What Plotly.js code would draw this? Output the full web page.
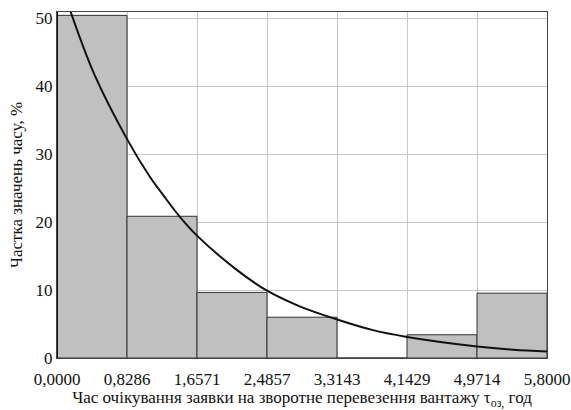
<!DOCTYPE html>
<html>
<head>
<meta charset="utf-8">
<script src="https://cdn.plot.ly/plotly-3.0.1.min.js"></script>
<style>html,body{margin:0;padding:0;background:#fff;}#chart{width:571px;height:410px;}</style>
</head>
<body>
<div id="chart"></div>
<script>
// Histogram bin edges (hours) and tick labels
const binEdges = [0, 0.8286, 1.6571, 2.4857, 3.3143, 4.1429, 4.9714, 5.8];
const tickLabels = ["0,0000", "0,8286", "1,6571", "2,4857", "3,3143", "4,1429", "4,9714", "5,8000"];
// Share of values per bin, %
const shares = [50.4, 20.85, 9.65, 6.0, 0, 3.42, 9.54];
// Fitted density curve
const curveX = [0.162, 0.446, 0.829, 1.097, 1.255, 1.452, 1.657, 2.124, 2.486, 2.873, 3.307, 3.74, 4.143, 4.972, 5.397, 5.8];
const curveY = [50.9, 41.6, 32.2, 26.7, 24.0, 20.8, 18.0, 13.0, 9.9, 7.6, 5.7, 4.1, 3.1, 1.7, 1.22, 0.95];
const yTicks = [0, 10, 20, 30, 40, 50];

const mids = shares.map((_, i) => (binEdges[i] + binEdges[i + 1]) / 2);
const widths = shares.map((_, i) => binEdges[i + 1] - binEdges[i]);

const mkFont = () => ({family: "Liberation Serif", size: 17, color: "#111"});

const data = [
  {
    type: "bar", x: mids, y: shares, width: widths,
    marker: {color: "#c0c0c0", line: {color: "#333", width: 1}},
    hoverinfo: "y"
  },
  {
    type: "scatter", mode: "lines", x: curveX, y: curveY,
    line: {color: "#111", width: 2, shape: "spline", smoothing: 1},
    cliponaxis: true
  }
];

const layout = {
  width: 571, height: 410,
  margin: {l: 57, r: 24, t: 12, b: 52},
  paper_bgcolor: "#fff", plot_bgcolor: "#fff",
  showlegend: false,
  font: mkFont(),
  bargap: 0,
  xaxis: {
    range: [0, 5.8], tickvals: binEdges, ticktext: tickLabels,
    showgrid: true, gridcolor: "#c8c8c8", gridwidth: 1,
    showline: true, linecolor: "#444", linewidth: 1, mirror: true,
    ticks: "outside", ticklen: 6, tickcolor: "rgba(0,0,0,0)",
    ticklabeloverflow: "allow",
    zeroline: false, tickfont: mkFont(),
    title: {text: "Час очікування заявки на зворотне перевезення вантажу τ<sub>оз,</sub> год", font: mkFont(), standoff: 6},
    automargin: false
  },
  yaxis: {
    range: [0, 50.9], tickvals: yTicks,
    showgrid: true, gridcolor: "#c8c8c8", gridwidth: 1,
    showline: true, linecolor: "#444", linewidth: 1, mirror: true,
    ticks: "", zeroline: false, tickfont: mkFont(),
    title: {text: "Частка значень часу, %", font: mkFont(), standoff: 8},
    automargin: false
  },
  shapes: [
    {type: "line", xref: "x", yref: "paper", x0: 0, x1: 0, y0: 0, y1: 1, line: {color: "#111", width: 2}}
  ]
};

Plotly.newPlot("chart", data, layout, {displayModeBar: false, staticPlot: true});
</script>
</body>
</html>
